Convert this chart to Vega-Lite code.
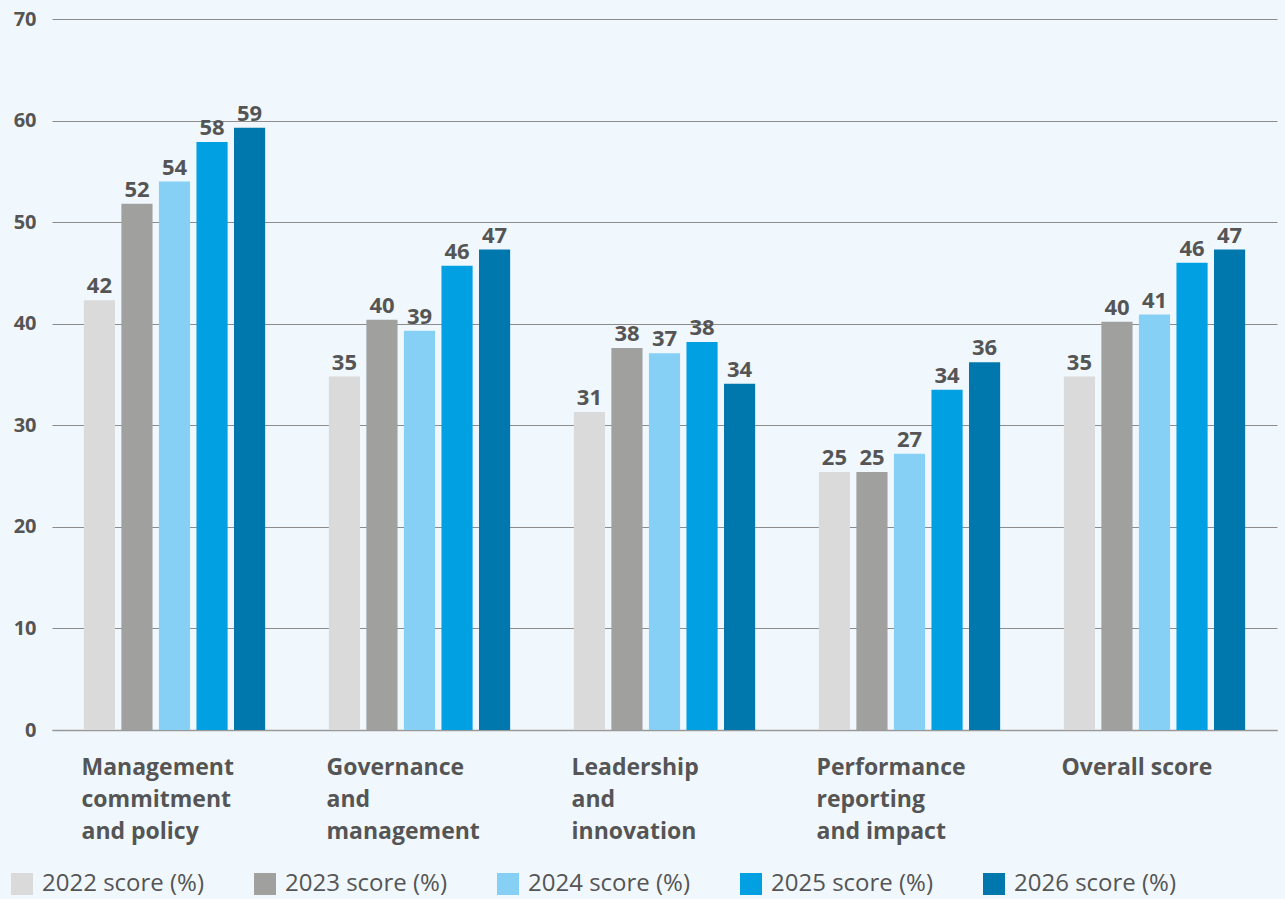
{
  "$schema": "https://vega.github.io/schema/vega-lite/v6.json",
  "width": 1225,
  "height": 711,
  "autosize": {"type": "none"},
  "padding": {"left": 52, "top": 19, "right": 8, "bottom": 169},
  "background": "#f0f8fe",
  "config": {
    "view": {"stroke": null},
    "font": "Open Sans"
  },
  "data": {
    "values": [
      {"category": "Management|commitment|and policy", "series": "2022 score (%)", "value": 42.3},
      {"category": "Management|commitment|and policy", "series": "2023 score (%)", "value": 51.8},
      {"category": "Management|commitment|and policy", "series": "2024 score (%)", "value": 54.0},
      {"category": "Management|commitment|and policy", "series": "2025 score (%)", "value": 57.9},
      {"category": "Management|commitment|and policy", "series": "2026 score (%)", "value": 59.3},
      {"category": "Governance|and|management", "series": "2022 score (%)", "value": 34.8},
      {"category": "Governance|and|management", "series": "2023 score (%)", "value": 40.4},
      {"category": "Governance|and|management", "series": "2024 score (%)", "value": 39.3},
      {"category": "Governance|and|management", "series": "2025 score (%)", "value": 45.7},
      {"category": "Governance|and|management", "series": "2026 score (%)", "value": 47.3},
      {"category": "Leadership|and|innovation", "series": "2022 score (%)", "value": 31.3},
      {"category": "Leadership|and|innovation", "series": "2023 score (%)", "value": 37.6},
      {"category": "Leadership|and|innovation", "series": "2024 score (%)", "value": 37.1},
      {"category": "Leadership|and|innovation", "series": "2025 score (%)", "value": 38.2},
      {"category": "Leadership|and|innovation", "series": "2026 score (%)", "value": 34.1},
      {"category": "Performance|reporting|and impact", "series": "2022 score (%)", "value": 25.4},
      {"category": "Performance|reporting|and impact", "series": "2023 score (%)", "value": 25.4},
      {"category": "Performance|reporting|and impact", "series": "2024 score (%)", "value": 27.2},
      {"category": "Performance|reporting|and impact", "series": "2025 score (%)", "value": 33.5},
      {"category": "Performance|reporting|and impact", "series": "2026 score (%)", "value": 36.2},
      {"category": "Overall score", "series": "2022 score (%)", "value": 34.8},
      {"category": "Overall score", "series": "2023 score (%)", "value": 40.2},
      {"category": "Overall score", "series": "2024 score (%)", "value": 40.9},
      {"category": "Overall score", "series": "2025 score (%)", "value": 46.0},
      {"category": "Overall score", "series": "2026 score (%)", "value": 47.3}
    ]
  },
  "encoding": {
    "x": {
      "field": "category",
      "type": "nominal",
      "sort": null,
      "scale": {"paddingInner": 0.26, "paddingOuter": 0.13},
      "axis": {
        "title": null,
        "labelAlign": "left",
        "labelBaseline": "top",
        "labelOffset": -93,
        "labelExpr": "split(datum.value, '|')",
        "labelLineHeight": 32,
        "labelFont": "Open Sans",
        "labelFontWeight": "bold",
        "labelFontSize": 23,
        "labelColor": "#555555",
        "labelPadding": 26,
        "labelAngle": 0,
        "ticks": false,
        "domain": true,
        "domainColor": "#999999",
        "domainWidth": 1.5,
        "labelLimit": 400
      }
    },
    "xOffset": {"field": "series", "type": "nominal", "scale": {"paddingInner": 0.17}},
    "y": {
      "field": "value",
      "type": "quantitative",
      "scale": {"domain": [0, 70], "nice": false},
      "axis": {
        "title": null,
        "values": [0, 10, 20, 30, 40, 50, 60, 70],
        "domain": false,
        "ticks": false,
        "grid": true,
        "gridColor": "#8c8c8c",
        "gridWidth": 1.2,
        "labelFont": "Open Sans",
        "labelFontWeight": "bold",
        "labelFontSize": 20,
        "labelColor": "#555555",
        "labelPadding": 16
      }
    }
  },
  "layer": [
    {
      "mark": {"type": "bar"},
      "encoding": {
        "color": {
          "field": "series",
          "type": "nominal",
          "scale": {
            "domain": ["2022 score (%)", "2023 score (%)", "2024 score (%)", "2025 score (%)", "2026 score (%)"],
            "range": ["#dadada", "#a0a09f", "#86d0f5", "#00a0e2", "#0077ad"]
          },
          "legend": {
            "title": null,
            "orient": "none",
            "direction": "horizontal",
            "legendX": -42,
            "legendY": 853,
            "symbolType": "square",
            "symbolSize": 484,
            "symbolStrokeWidth": 0,
            "symbolOpacity": 1,
            "labelFont": "Open Sans",
            "labelFontSize": 24,
            "labelColor": "#555555",
            "labelOffset": 8,
            "columnPadding": 48,
            "labelLimit": 300
          }
        }
      }
    },
    {
      "mark": {"type": "text", "baseline": "bottom", "dy": -2, "fontWeight": "bold", "fontSize": 22, "color": "#555555", "font": "Open Sans"},
      "encoding": {
        "text": {"field": "value", "type": "quantitative", "format": ".0f"}
      }
    }
  ]
}
